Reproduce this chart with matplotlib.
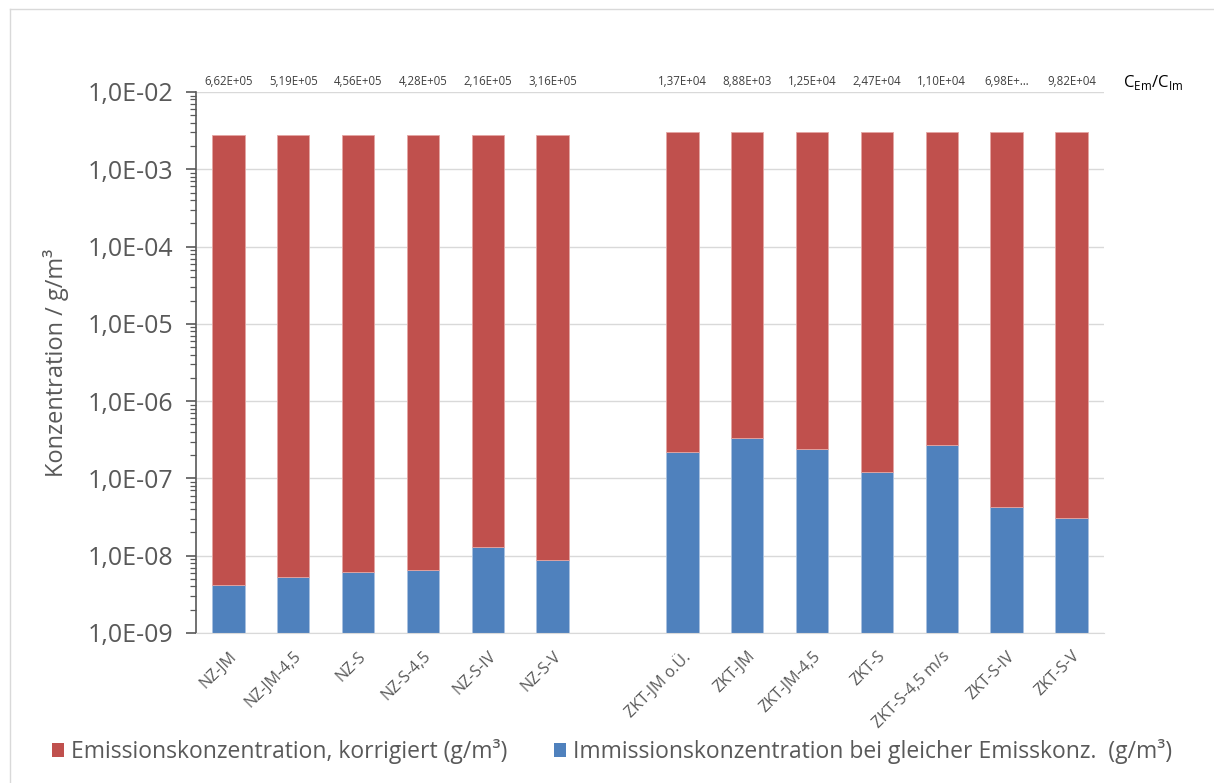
import matplotlib.pyplot as plt
from matplotlib.lines import Line2D
from matplotlib.patches import Patch
from matplotlib.ticker import FixedLocator, LogLocator, NullFormatter

plt.rcParams["font.family"] = ["Open Sans", "DejaVu Sans"]
plt.rcParams["mathtext.fontset"] = "custom"
plt.rcParams["mathtext.rm"] = "Open Sans"

categories = [
    "NZ-JM", "NZ-JM-4,5", "NZ-S", "NZ-S-4,5", "NZ-S-IV", "NZ-S-V", "",
    "ZKT-JM o.Ü.", "ZKT-JM", "ZKT-JM-4,5", "ZKT-S", "ZKT-S-4,5 m/s", "ZKT-S-IV", "ZKT-S-V",
]
# corrected emission concentration (g/m³), total bar height
emission = [
    2.78e-3, 2.78e-3, 2.78e-3, 2.78e-3, 2.78e-3, 2.78e-3, None,
    3.0e-3, 3.0e-3, 3.0e-3, 3.0e-3, 3.0e-3, 3.0e-3, 3.0e-3,
]
# immission concentration at equal emission (g/m³)
immission = [
    4.20e-9, 5.36e-9, 6.10e-9, 6.50e-9, 1.29e-8, 8.80e-9, None,
    2.19e-7, 3.38e-7, 2.40e-7, 1.21e-7, 2.73e-7, 4.30e-8, 3.05e-8,
]
ratio_labels = [
    "6,62E+05", "5,19E+05", "4,56E+05", "4,28E+05", "2,16E+05", "3,16E+05", "",
    "1,37E+04", "8,88E+03", "1,25E+04", "2,47E+04", "1,10E+04", "6,98E+…", "9,82E+04",
]

RED = "#C0504D"
BLUE = "#4F81BD"
GREY = "#595959"
BASE = 1e-9

fig = plt.figure(figsize=(12.14, 7.83), dpi=100)
ax = fig.add_axes([196 / 1214, 1 - 633 / 783, (1104 - 196) / 1214, (633 - 92) / 783])

x = list(range(len(categories)))
for i, (em, im) in enumerate(zip(emission, immission)):
    if em is None:
        continue
    ax.bar(i, im - BASE, bottom=BASE, width=0.5, color=BLUE, edgecolor="#A9C1E0", linewidth=0.6, zorder=2)
    ax.bar(i, em - im, bottom=im, width=0.5, color=RED, edgecolor="#E4A5A3", linewidth=0.6, zorder=2)
    ax.text(i, 1.0e-2 * 1.12, ratio_labels[i], ha="center", va="bottom", fontsize=8.3, color="#404040")

ax.set_yscale("log")
ax.set_ylim(1e-9, 1e-2)
ax.set_xlim(-0.5, len(categories) - 0.5)

ax.yaxis.set_major_locator(FixedLocator([10.0 ** e for e in range(-9, -1)]))
ax.yaxis.set_minor_locator(LogLocator(base=10, subs=range(2, 10)))
ax.yaxis.set_minor_formatter(NullFormatter())
ax.set_yticklabels([f"1,0E-{-e:02d}" for e in range(-9, -1)])
ax.tick_params(axis="y", which="major", length=7, width=1.2, color=GREY, labelsize=18, labelcolor=GREY, pad=9)
ax.tick_params(axis="y", which="minor", length=4, width=0.9, color=GREY)

ax.set_xticks(x)
ax.set_xticklabels(categories, rotation=45, ha="right", rotation_mode="anchor", fontsize=11.5, color=GREY)
ax.tick_params(axis="x", length=0, pad=11)

ax.grid(axis="y", which="major", color="#D9D9D9", linewidth=1.0, zorder=0)
ax.set_axisbelow(True)
for side in ["top", "right"]:
    ax.spines[side].set_visible(False)
ax.spines["left"].set_color(GREY)
ax.spines["left"].set_linewidth(1.2)
ax.spines["bottom"].set_color("#D9D9D9")

ax.set_ylabel("Konzentration / g/m³", fontsize=17, color=GREY, labelpad=14)

fig.text(1153 / 1214, 1 - 82 / 783, r"C$_{\mathrm{Em}}$/C$_{\mathrm{Im}}$",
         ha="center", va="center", fontsize=12, color="black")

handles = [
    Patch(facecolor=RED, label="Emissionskonzentration, korrigiert (g/m³)"),
    Patch(facecolor=BLUE, label="Immissionskonzentration bei gleicher Emisskonz.  (g/m³)"),
]
fig.legend(handles=handles, loc="center", bbox_to_anchor=(612 / 1214, 1 - 752 / 783), ncol=2, frameon=False,
           fontsize=16.5, labelcolor=GREY, handlelength=0.55, handleheight=0.55, handletextpad=0.3,
           columnspacing=2.0)

# chart frame
fig.add_artist(Line2D([10 / 1214, 10 / 1214], [0, 1 - 9 / 783], transform=fig.transFigure, color="#D9D9D9", lw=1))
fig.add_artist(Line2D([10 / 1214, 1], [1 - 9 / 783, 1 - 9 / 783], transform=fig.transFigure, color="#D9D9D9", lw=1))

fig.savefig("out.png", dpi=100)
